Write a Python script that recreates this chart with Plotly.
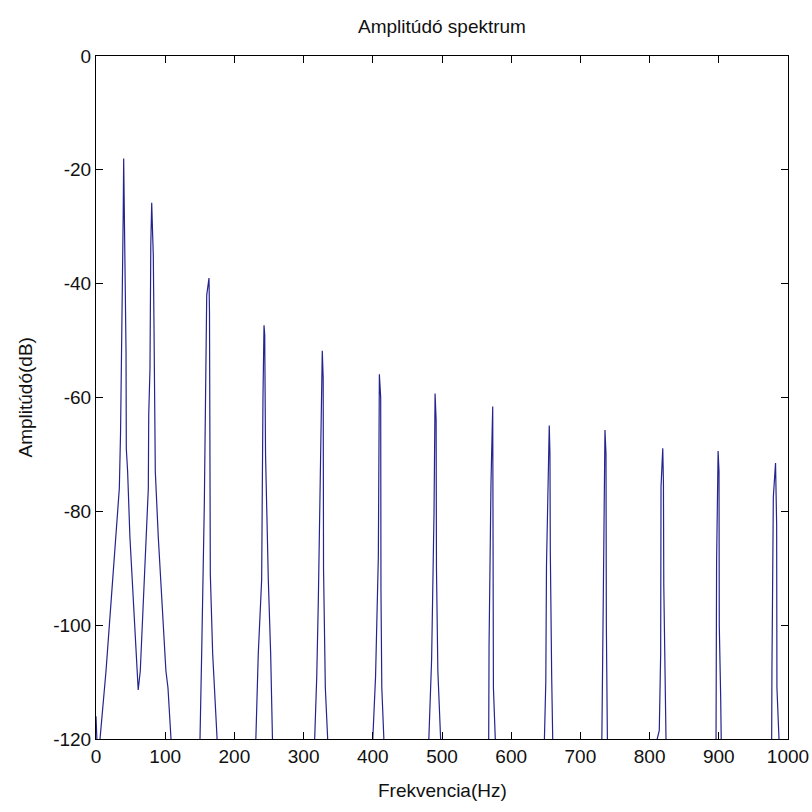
import plotly.graph_objects as go

freq_hz = [
    0, 2.5,
    # harmonic 1 (~40 Hz) and 2 (~81 Hz)
    5.8, 14.5, 21.7, 28.9, 33.7, 35.5, 37.5, 39.3, 40.0, 40.6, 41.6, 42.6, 43.4, 43.8, 45.7, 49.0, 53.8, 58.8, 61.0,
    64.0, 68.4, 72.3, 75.6, 76.2, 78.0, 79.2, 80.5, 81.5, 82.8, 84.0, 84.5, 85.7, 90.0, 95.4, 101.0, 104.0, 108.4,
    129,
    150.3, 152.7, 156.5, 160.0, 162.5, 163.3, 164.0, 164.7, 165.2, 168.6, 175.0,
    203,
    231.0, 234.5, 239.4, 241.3, 242.8, 243.8, 245.0, 249.0, 252.4, 255.0,
    285,
    316.0, 319.0, 321.3, 324.7, 327.0, 328.3, 328.8, 331.4, 334.8,
    367,
    400.0, 404.0, 408.0, 409.5, 411.4, 411.8, 413.0, 416.0,
    449,
    481.0, 485.0, 488.5, 490.0, 491.5, 492.0, 494.0, 498.0,
    531,
    567.5, 568.0, 570.8, 573.3, 574.0, 574.3, 577.0,
    612,
    648.0, 650.0, 651.0, 655.0, 656.0, 656.5, 658.5, 660.0,
    694,
    731.0, 733.0, 735.5, 737.0, 737.5, 739.0,
    776,
    811.0, 814.0, 816.0, 816.5, 819.0, 820.0, 820.5, 822.3, 823.7,
    858,
    896.0, 896.8, 899.0, 900.3, 900.7, 902.7, 903.5,
    940,
    976.4, 976.8, 978.8, 982.0, 983.6, 984.0, 987.0,
    1000,
]
amp_db = [
    -116, -124,
    -120, -108, -96, -84.5, -76, -66, -50, -28, -18, -24, -40, -50, -52, -69, -73, -84.5, -96, -108, -111.4,
    -108, -96, -84.5, -76, -63, -55, -33, -25.8, -30, -35, -50, -63, -73, -84.5, -96, -108, -111, -120,
    -140,
    -120, -105, -79, -42, -40, -39, -45, -62, -91, -105, -120,
    -140,
    -120, -105, -92, -60, -47.3, -49, -70, -92, -105, -120,
    -140,
    -120, -109, -95.6, -66, -51.8, -56.6, -90, -111, -120,
    -140,
    -120, -109, -88, -55.9, -60, -94, -111, -120,
    -140,
    -120, -106, -80, -59.3, -64, -90, -108, -120,
    -140,
    -120, -103.5, -75, -61.6, -80, -111, -120,
    -140,
    -120, -110, -89.5, -64.9, -70, -86.8, -109, -120,
    -140,
    -120, -96, -65.7, -70, -100, -120,
    -140,
    -120, -118.5, -105, -75.7, -68.9, -75, -93, -113.7, -120,
    -140,
    -120, -89, -69.4, -73, -100, -112.6, -120,
    -140,
    -120, -107.6, -77.5, -71.5, -82.4, -111, -120,
    -135,
]

x_ticks = [0, 100, 200, 300, 400, 500, 600, 700, 800, 900, 1000]
y_ticks = [-120, -100, -80, -60, -40, -20, 0]

title_text = "Amplitúdó spektrum"
x_title = "Frekvencia(Hz)"
y_title = "Amplitúdó(dB)"

FONT = "Liberation Sans, Arial, sans-serif"

fig = go.Figure()
fig.add_trace(go.Scatter(
    x=freq_hz, y=amp_db, mode="lines",
    line=dict(color="#24248f", width=1.2),
    showlegend=False, hoverinfo="skip", cliponaxis=True,
))

axis_common = dict(
    showline=True, linecolor="black", linewidth=1, mirror="ticks",
    ticks="inside", ticklen=7, tickcolor="black", tickwidth=1,
    showgrid=False, zeroline=False, automargin=False,
    tickfont=dict(family=FONT, size=19, color="#111111"),
)

fig.update_layout(
    width=812, height=812,
    margin=dict(l=96, r=24, t=56, b=73, autoexpand=False),
    paper_bgcolor="white", plot_bgcolor="white",
    title=dict(text=title_text, x=0.5, xref="paper", xanchor="center",
               y=1 - 26 / 812, yref="container", yanchor="middle",
               font=dict(family=FONT, size=19, color="#111111")),
    xaxis=dict(range=[0, 1000], tickvals=x_ticks, ticktext=[str(v) for v in x_ticks], **axis_common),
    yaxis=dict(range=[-120, 0], tickvals=y_ticks, ticktext=[str(v) for v in y_ticks], **axis_common),
    annotations=[
        dict(text=x_title, xref="paper", yref="paper", x=0.5, y=0, yshift=-51,
             xanchor="center", yanchor="middle", showarrow=False,
             font=dict(family=FONT, size=19, color="#111111")),
        dict(text=y_title, xref="paper", yref="paper", x=0, y=0.5, xshift=-71,
             xanchor="center", yanchor="middle", textangle=-90, showarrow=False,
             font=dict(family=FONT, size=19, color="#111111")),
    ],
)

fig.write_html("out.html")
